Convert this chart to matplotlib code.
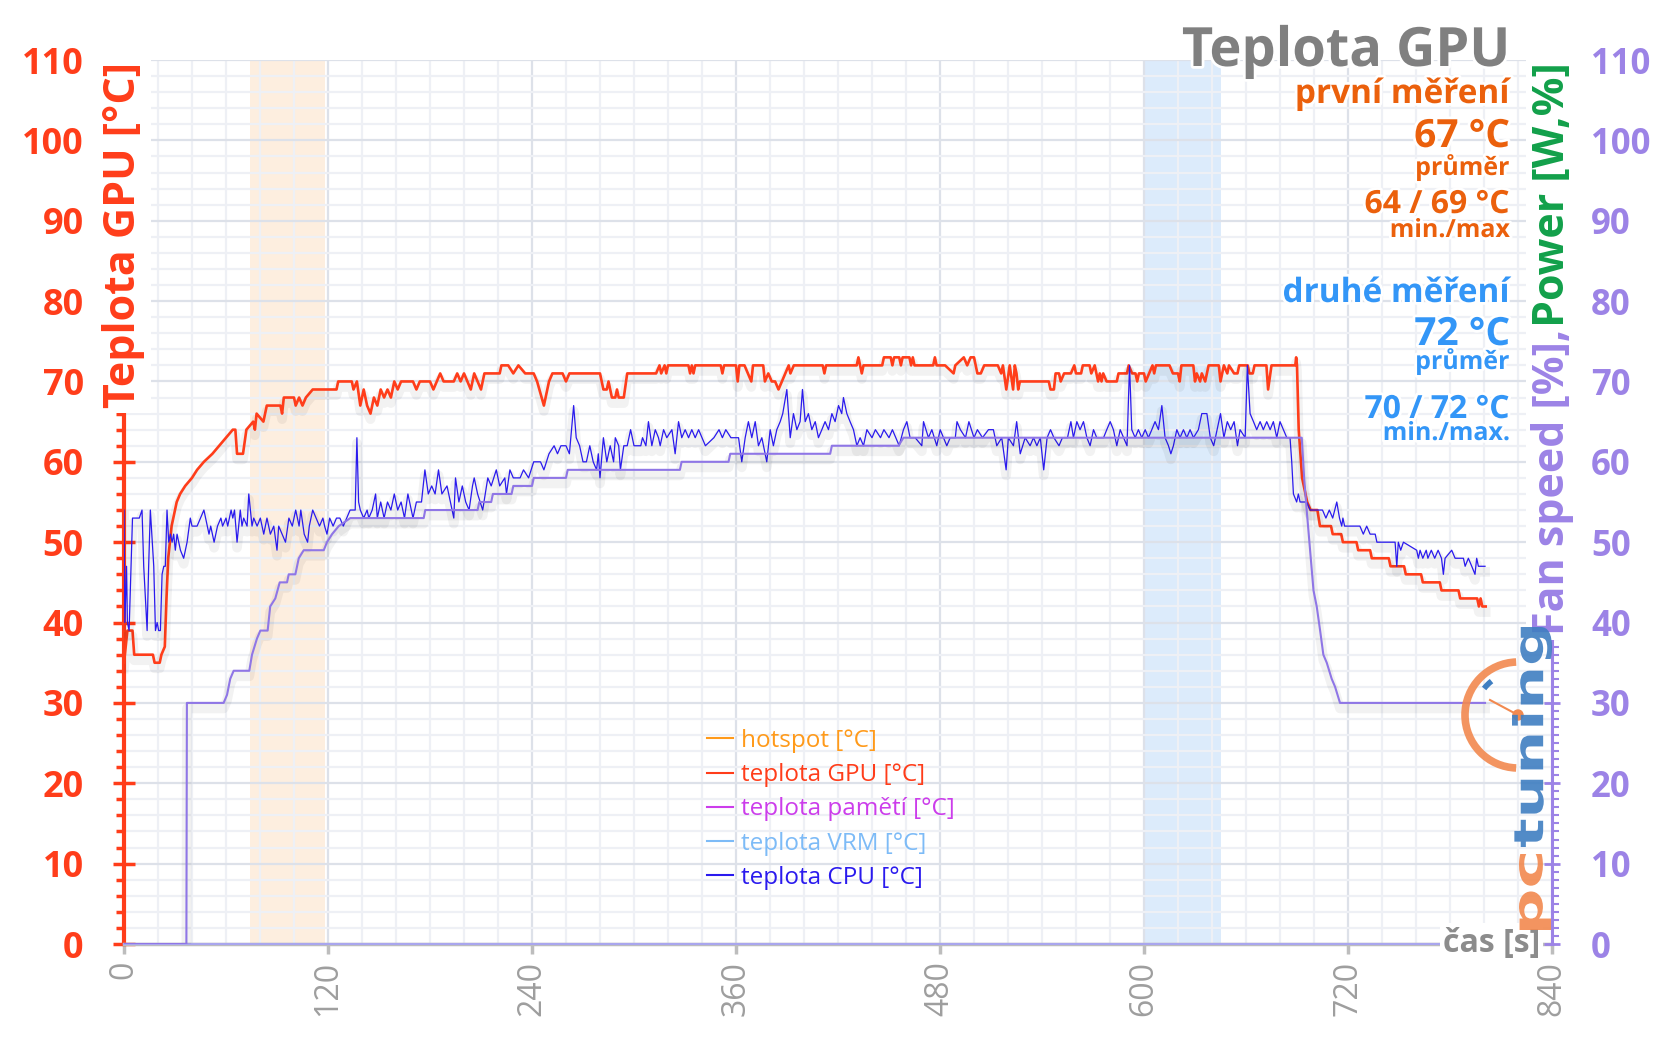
import numpy
from matplotlib import pyplot
from matplotlib import patheffects
from matplotlib import transforms
from matplotlib.lines import Line2D
from matplotlib.patches import Arc, Circle, PathPatch
from matplotlib.textpath import TextPath
from matplotlib.font_manager import FontProperties
from matplotlib.ticker import MultipleLocator

pyplot.rcParams['font.family'] = ['Open Sans', 'DejaVu Sans']

W, H = 1656, 1043

# (time [s], GPU temperature [°C])
gpu_points = [
    (0, 35), (2, 39), (5, 39), (6, 36), (17, 36), (18, 35), (21, 35), (22, 36), (24, 37), (25, 43),
    (26, 48), (28, 52), (31, 55), (33, 56), (36, 57), (40, 58), (43, 59), (47, 60), (52, 61), (56, 62),
    (60, 63), (64, 64), (65.5, 64), (66.5, 61), (70, 61), (72, 64), (76, 65), (77, 64), (78, 66), (82, 65),
    (84, 67), (92, 67), (93, 66), (94, 68), (100, 68), (101, 67), (103, 68), (105, 67), (107, 68), (111, 69),
    (125, 69), (126, 70), (134, 70), (135, 69), (137, 70), (139, 67), (141, 69), (143, 67), (145, 66), (147, 68),
    (149, 67), (151, 69), (153, 68), (155, 69), (157, 68), (159, 70), (161, 69), (163, 70), (170, 70), (172, 69),
    (174, 70), (180, 70), (182, 69), (184, 70), (186, 71), (188, 70), (194, 70), (196, 71), (198, 70), (200, 71),
    (204, 69), (206, 71), (210, 69), (212, 71), (221, 71), (222, 72), (226, 72), (229, 71), (232, 72), (236, 71),
    (241, 71), (243, 70), (247, 67), (250, 70), (252, 71), (258, 71), (260, 70), (262, 71), (280, 71), (282, 69),
    (284, 69), (285, 70), (287, 68), (289, 68), (290, 69), (291, 68), (294, 68), (296, 71), (313, 71), (315, 72),
    (316, 71), (318, 72), (319, 71), (320, 72), (332, 72), (333, 71), (334, 72), (335, 71), (336, 72), (351, 72),
    (352, 71), (353, 72), (360, 72), (361, 70), (362, 72), (365, 72), (367, 71), (369, 70), (370, 72), (376, 72),
    (377, 70), (379, 71), (381, 70), (383, 70), (385, 69), (387, 70), (389, 71), (391, 72), (392, 71), (394, 72),
    (411, 72), (412, 71), (413, 72), (431, 72), (432, 73), (434, 71), (435, 72), (446, 72), (447, 73), (451, 73),
    (452, 72), (453, 73), (456, 73), (457, 72), (458, 73), (462, 73), (463, 72), (464, 73), (465, 72), (476, 72),
    (477, 73), (478, 72), (483, 72), (488, 71), (489, 72), (494, 73), (496, 72), (498, 73), (500, 73), (502, 71),
    (504, 71), (506, 72), (514, 72), (516, 71), (517, 72), (519, 69), (521, 72), (523, 69), (524, 72), (525, 71),
    (526, 69), (527, 70), (544, 70), (545, 69), (547, 69), (548, 71), (550, 71), (551, 70), (553, 71), (557, 71),
    (559, 72), (560, 71), (563, 71), (564, 72), (568, 72), (569, 71), (571, 72), (573, 70), (574, 71), (575, 70),
    (576, 71), (578, 70), (584, 70), (585, 71), (590, 71), (591, 72), (593, 71), (595, 71), (596, 70), (597, 71),
    (600, 71), (601, 70), (603, 71), (605, 72), (606, 71), (607, 72), (615, 72), (617, 71), (620, 71), (621, 70),
    (622, 72), (629, 72), (630, 70), (631, 71), (633, 70), (634, 71), (636, 70), (638, 72), (644, 72), (645, 70),
    (647, 72), (649, 71), (650, 72), (653, 71), (655, 71), (656, 72), (661, 72), (662, 71), (664, 71), (665, 72),
    (672, 72), (673, 69), (675, 72), (689, 72), (689.5, 73), (690, 72), (691, 64), (693, 58), (696, 55), (698, 54),
    (702, 54), (703.5, 52), (710, 52), (711, 51), (716, 51), (717, 50), (725, 50), (726, 49), (733, 49), (734, 48),
    (744, 48), (745, 47), (753, 47), (754, 46), (763, 46), (764, 45), (774, 45), (775, 44), (785, 44), (786, 43),
    (796, 43), (797, 42), (798, 43), (799, 42), (801, 42),
]

# (time [s], CPU temperature [°C])
cpu_points = [
    (0, 54), (0.5, 40), (1.5, 47), (2, 40), (3, 39), (5, 53), (9, 53), (10.6, 54), (11.6, 47), (13.6, 39),
    (14.5, 47), (15.5, 54), (17.5, 47), (18.5, 39), (19.5, 40), (20.4, 39), (21.4, 39), (22.4, 46), (23.4, 47),
    (24.3, 47), (25.3, 54), (26.3, 50), (27.3, 51), (28.3, 50), (29.2, 51), (30.2, 49), (31.2, 51), (32.2, 50),
    (33.2, 49), (35.1, 48), (37.1, 50), (39, 53), (40, 52), (43, 52), (45, 53), (47, 54), (49, 52), (50, 51),
    (51, 52), (53, 50), (55, 52), (57, 53), (58, 52), (60, 53), (61, 52), (63, 54), (64, 53), (65, 54),
    (66.5, 50), (68.4, 54), (69.4, 52), (70.4, 53), (72.4, 52), (73.4, 56), (75.3, 52), (76.3, 53), (78.3, 52),
    (80.2, 53), (82.2, 51), (84.1, 53), (86.1, 51), (88.1, 52), (90, 49), (91, 52), (93, 51), (95, 50),
    (97, 53), (99, 52), (101, 54), (103, 52), (104, 54), (106, 51), (108, 50), (109, 52), (111, 54), (113, 53),
    (115, 52), (117, 53), (118, 52), (119.4, 51), (121, 53), (123, 52), (125, 53), (127, 53), (129, 52), (131, 53),
    (133, 54), (136, 54), (137, 63), (138, 55), (139, 54), (141, 53), (143, 54), (144, 53), (146, 54), (148, 56),
    (149, 53), (151, 55), (153, 53), (155, 55), (157, 54), (159, 56), (161, 54), (163, 55), (165, 53), (167, 56),
    (169, 54), (170, 53), (172, 55), (175, 55), (177, 59), (179, 56), (181, 57), (183, 56), (185, 59), (187, 56),
    (190, 57), (192, 55), (194, 53), (195, 58), (197, 55), (199, 57), (201, 55), (203, 54), (205, 57), (206, 58),
    (208, 56), (211, 54), (214, 58), (216, 57), (219, 59), (221, 57), (224, 58), (225, 56), (227, 59), (229, 58),
    (233, 58), (235, 59), (238, 58), (241, 60), (245, 60), (247, 59), (250, 61), (253, 62), (255, 61), (257, 62),
    (260, 62), (262, 61), (264.5, 67), (266, 63), (268, 62), (270, 60), (272, 60), (274, 62), (276, 60), (278, 59),
    (279, 61), (280, 58), (282, 63), (284, 60), (286, 62), (288, 60), (289, 63), (291, 62), (292, 59), (294, 62),
    (296, 62), (298, 64), (300, 62), (304, 62), (305, 63), (307, 62), (308.5, 65), (310.5, 62), (312.5, 64),
    (314.4, 63), (315.4, 62), (317.4, 64), (319.3, 63), (322.3, 64), (324.2, 61), (326.2, 65), (328.1, 63),
    (330.1, 64), (332.1, 63), (334, 64), (336, 63), (338, 64), (340, 63), (342, 62), (347, 63), (350, 64),
    (352, 63), (354, 64), (357, 63), (361.5, 63), (363.4, 60), (365.4, 63), (367.3, 65), (369.3, 63), (371.3, 65),
    (373.2, 62), (375.2, 63), (378.1, 60), (380.1, 64), (382, 62), (384, 64), (386, 65), (387.5, 66), (389.9, 69),
    (391.9, 63), (393.8, 66), (395.8, 64), (397.7, 65), (399.1, 69), (400.7, 65), (402.6, 66), (404.6, 64),
    (406.6, 65), (408.5, 63), (410.5, 64), (412.4, 65), (414.4, 64), (416.4, 66), (418.3, 65), (420.3, 67),
    (422.2, 66), (423.2, 68), (425.2, 66), (427.1, 65), (429.1, 64), (431.1, 62), (433, 63), (435, 62), (437, 64),
    (440, 63), (442, 64), (445, 63), (447, 64), (450, 63), (452, 64), (454, 63), (456, 62), (458.5, 64),
    (460.5, 65), (462.4, 63), (465.4, 63), (469.3, 62), (470.3, 65), (473.2, 63), (475.2, 64), (478.1, 62),
    (480.1, 64), (484, 62), (486, 63), (489, 63), (490, 65), (492, 64), (495, 63), (497, 65), (500, 63), (502, 64),
    (505, 63), (508.5, 64), (511.4, 64), (513.4, 62), (516.3, 63), (518.9, 59), (520.2, 63), (523.2, 62),
    (525.1, 65), (527.2, 61), (530.1, 63), (533, 62), (535, 63), (537, 62), (539, 63), (541, 59), (543, 63),
    (545, 64), (547, 63), (550, 62), (552, 63), (555, 63), (557, 65), (558.5, 63), (560.5, 65), (562.4, 64),
    (564.4, 65), (566.4, 63), (568.3, 62), (570.3, 64), (572.2, 63), (576.2, 63), (578.1, 64), (580.1, 65),
    (582, 64), (584, 62), (586, 64), (588, 63), (590, 62), (591.5, 72), (592.8, 64), (594.8, 63), (596.7, 64),
    (598.7, 63), (600.7, 64), (602.6, 63), (604.6, 64), (606.5, 65), (608.5, 64), (610.5, 67), (612.4, 63),
    (614.4, 62), (615.8, 61), (617.3, 62), (619.3, 64), (621.2, 63), (623.2, 64), (625.2, 63), (627.1, 64),
    (629.1, 63), (632, 64), (634, 66), (637, 66), (639, 63), (641, 62), (643, 64), (645, 66), (647, 63), (649, 65),
    (651, 64), (653, 65), (655, 62), (656.5, 64), (659.5, 63), (660.8, 72), (662.4, 66), (664.4, 65), (666.3, 64),
    (668.3, 65), (670.2, 64), (672.2, 65), (674.2, 64), (676.1, 65), (678.1, 63), (680, 65), (682, 64), (684, 63),
    (685.9, 63), (686.9, 60), (687.9, 56), (689.8, 55), (690.8, 56), (691.8, 55), (695.7, 55), (697.7, 54),
    (701.6, 54), (703, 54), (705, 54), (707, 53), (709, 54), (711, 53), (713.4, 55), (715, 53), (716.3, 52),
    (717, 53), (718, 52), (721, 52), (727, 52), (729, 51), (731, 52), (733, 51), (736, 51), (737, 50), (747.7, 50),
    (748.7, 47), (749.6, 50), (751, 49), (752.6, 50), (760.4, 49), (761.4, 48), (762.4, 49), (764, 48), (766, 49),
    (767, 48), (769, 49), (771, 48), (773, 49), (775, 48), (776.1, 46), (777.1, 48), (781, 49), (783, 48),
    (787.9, 48), (788.9, 47), (790.8, 48), (792.8, 47), (794.7, 46), (795.7, 48), (796.7, 47), (800.6, 47),
]

# (time [s], fan speed [%])
fan_points = [
    (0, 0), (36.7, 0), (37, 30), (58.6, 30), (60.6, 31), (62.5, 33), (64.5, 34), (73.7, 34), (75.3, 36),
    (78.2, 38), (80.2, 39), (84.5, 39), (86, 42), (89, 43), (91.6, 45), (95.9, 45), (96.9, 46), (100.8, 46),
    (102.8, 48), (105.7, 49), (117.5, 49), (119.4, 50), (122.4, 51), (126.3, 52), (133.1, 53), (176.3, 53),
    (177.2, 54), (208, 54), (209, 55), (216, 55), (217, 56), (228, 56), (229, 57), (240, 57), (241, 58),
    (260, 58), (261, 59), (327, 59), (328, 60), (355.6, 60), (356.6, 61), (415.4, 61), (416.4, 62), (455.6, 62),
    (458.5, 63), (692.8, 63), (694.2, 58), (695.7, 54), (697.7, 49), (699.7, 44), (701.6, 42), (703.6, 39),
    (705.5, 36), (707.5, 35), (710.4, 33), (712.4, 32), (715.3, 30), (800.6, 30),
]

# series that stay at zero for the whole run
zero_points = [(0, 0), (800, 0)]

legend_labels = ['hotspot [°C]', 'teplota GPU [°C]', 'teplota pamětí [°C]', 'teplota VRM [°C]', 'teplota CPU [°C]']
legend_colors = ['#FF9A1A', '#FF3D1A', '#CC3DEB', '#7DBBF7', '#2A1AEE']

first_run = ['první měření', '67 °C', 'průměr', '64 / 69 °C', 'min./max']
second_run = ['druhé měření', '72 °C', 'průměr', '70 / 72 °C', 'min./max.']

x_ticks = list(range(0, 841, 120))
y_ticks = list(range(0, 111, 10))

RED = '#FF3D1A'
PURPLE = '#9C83E6'
GRAY = '#9E9E9E'


def px_x(x):
    return x / W


def px_y(y):
    return 1 - y / H


def split(points):
    t, v = zip(*points)
    return numpy.array(t), numpy.array(v)


def stretched_text(fig, text, x_right, y_bottom, length, height, color):
    path = TextPath((0, 0), text, size=10, prop=FontProperties(family='DejaVu Sans', weight='bold'))
    ext = path.get_extents()
    trans = (transforms.Affine2D()
             .translate(-ext.x0, -ext.y0)
             .scale(length / ext.width, height / ext.height)
             .rotate_deg(90)
             .translate(x_right, y_bottom))
    fig.add_artist(PathPatch(trans.transform_path(path), facecolor=color, lw=0, alpha=0.9, zorder=6,
                             transform=transforms.IdentityTransform()))


def draw_logo(fig):
    ident = transforms.IdentityTransform()
    cx, cy = 1518, H - 715
    fig.add_artist(Arc((cx, cy), 106, 106, theta1=92, theta2=268, lw=5.5, color='#F2894F',
                       alpha=0.9, zorder=6, transform=ident))
    fig.add_artist(Arc((cx, cy), 86, 86, theta1=128, theta2=142, lw=4, color='#3F7EC1', zorder=6,
                       transform=ident))
    fig.add_artist(Line2D([1490, cx], [H - 700, cy], lw=1.5, color='#F2894F', zorder=6, transform=ident))
    fig.add_artist(Circle((cx, cy), 5, color='#F2894F', zorder=6, transform=ident))
    stretched_text(fig, 'tuning', 1552, H - 847, 220, 40, '#3F7EC1')
    stretched_text(fig, 'pc', 1551, H - 930, 76, 32, '#F2894F')


fig = pyplot.figure(figsize=(W / 100, H / 100), dpi=100)
ax = fig.add_axes([px_x(124), px_y(944), (1552 - 124) / W, (944 - 60) / H])
ax2 = ax.twinx()

ax.set_xlim(0, 840)
ax.set_ylim(0, 110)
ax2.set_ylim(0, 110)

# highlighted measurement windows
ax.axvspan(74, 118, color='#FDEEDF', zorder=0, lw=0)
ax.axvspan(600, 645, color='#DCEBFB', zorder=0, lw=0)

ax.set_axisbelow(True)
ax.xaxis.set_minor_locator(MultipleLocator(20))
ax.yaxis.set_minor_locator(MultipleLocator(2))
ax.grid(which='minor', color='#EEF0F5', lw=1.6)
ax.grid(which='major', color='#DDE1E9', lw=1.6)

shadow = [patheffects.SimpleLineShadow(offset=(0, -4), shadow_color='black', alpha=0.05, linewidth=7),
          patheffects.Normal()]

t, v = split(zero_points)
ax.plot(t, v, color='#A9A6EE', lw=1.5, zorder=3, clip_on=False)
t, v = split(gpu_points)
ax.plot(t, v, color=RED, lw=1.9, path_effects=shadow, zorder=4)
t, v = split(cpu_points)
ax.plot(t, v, color='#2A1AEE', lw=0.9, path_effects=shadow, zorder=5)
t, v = split(fan_points)
ax2.plot(t, v, color='#8F76E6', lw=1.5, path_effects=shadow, zorder=3)

# spines
for side in ['top', 'right']:
    ax.spines[side].set_visible(False)
for side in ['top', 'left', 'bottom']:
    ax2.spines[side].set_visible(False)
ax.spines['left'].set_color(RED)
ax.spines['left'].set_linewidth(3)
ax.spines['bottom'].set_color('#BDBDBD')
ax.spines['bottom'].set_linewidth(2.5)
ax2.spines['right'].set_color(PURPLE)
ax2.spines['right'].set_linewidth(2.2)

ax.set_xticks(x_ticks, [str(x) for x in x_ticks], rotation=90, color=GRAY, fontsize=23)
ax.tick_params(axis='x', which='major', direction='out', length=7, width=2.5, color='#BDBDBD', pad=5)
ax.tick_params(axis='x', which='minor', length=0)

ax.set_yticks(y_ticks, [str(y) for y in y_ticks], fontweight='bold', color=RED, fontsize=26)
ax.tick_params(axis='y', which='major', direction='inout', length=16, width=2.5, color=RED, pad=21)
ax.tick_params(axis='y', which='minor', direction='out', length=6, width=2.5, color=RED)

ax2.set_yticks(y_ticks, [str(y) for y in y_ticks], fontweight='bold', color=PURPLE, fontsize=25)
ax2.yaxis.set_minor_locator(MultipleLocator(1))
ax2.tick_params(axis='y', which='major', direction='inout', length=12, width=2, color=PURPLE, pad=22)
ax2.tick_params(axis='y', which='minor', direction='out', length=5, width=1.5, color=PURPLE)

label_box = dict(boxstyle='square,pad=0.12', fc='white', ec='none')
fig.text(px_x(124), px_y(62), 'Teplota GPU [°C]', rotation=90, ha='center', va='top', color=RED,
         fontsize=31, fontweight='bold', bbox=label_box)
power = fig.text(px_x(1553), px_y(62), 'Power [W,%]', rotation=90, ha='center', va='top', color='#12A04A',
                 fontsize=31, fontweight='bold', bbox=label_box)

fig.text(px_x(1540), px_y(943), 'čas [s]', ha='right', va='center', color='#8C8C8C', fontsize=23,
         fontweight='bold', bbox=dict(boxstyle='square,pad=0.1', fc='white', ec='none'))

# title and the two measurement summaries
soft = [patheffects.withStroke(linewidth=4, foreground='white')]
fig.text(px_x(1510), px_y(66), 'Teplota GPU', ha='right', va='baseline', color='#808080', fontsize=39,
         fontweight='bold', path_effects=soft)
sizes = [24, 28, 18, 23, 18]
first_base = [103, 147, 175, 213, 237]
second_base = [302, 345, 369, 418, 440]
for text, size, base in zip(first_run, sizes, first_base):
    fig.text(px_x(1510), px_y(base), text, ha='right', va='baseline', color='#EB600C', fontsize=size,
             fontweight='bold', path_effects=soft)
for text, size, base in zip(second_run, sizes, second_base):
    fig.text(px_x(1510), px_y(base), text, ha='right', va='baseline', color='#3396F7', fontsize=size,
             fontweight='bold', path_effects=soft)

handles = [Line2D([], [], color=c, lw=1.5) for c in legend_colors]
ax.legend(handles, legend_labels, loc='upper left', bbox_to_anchor=(px_x(707), px_y(729)),
          bbox_transform=fig.transFigure, frameon=False, fontsize=17.5, labelcolor=legend_colors,
          borderpad=0, borderaxespad=0, handlelength=1.05, handletextpad=0.35, labelspacing=0.42)

# fan label sits right under the green part of the right axis title
fig.canvas.draw()
box = power.get_window_extent()
fig.text(px_x(1553), (box.y0 - 2) / H, 'Fan speed [%],', rotation=90, ha='center', va='top', color=PURPLE,
         fontsize=31, fontweight='bold', bbox=label_box)

draw_logo(fig)

pyplot.savefig('out.png', dpi=100)
